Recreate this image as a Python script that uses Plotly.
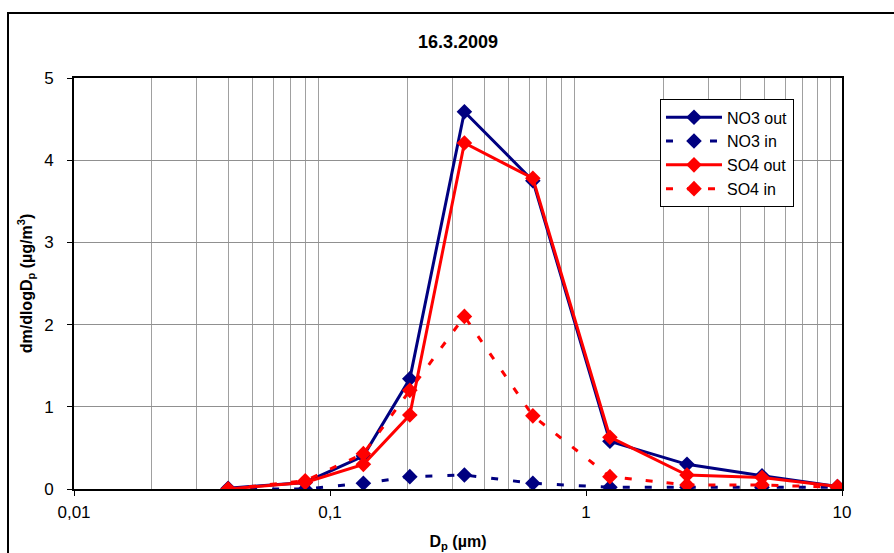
import plotly.graph_objects as go

# Impactor stage mid-point diameters (µm)
diameters = [0.04, 0.08, 0.135, 0.205, 0.335, 0.62, 1.24, 2.48, 4.87, 9.6]

# Mass size distributions dm/dlogDp (µg/m3)
no3_out = [0.01, 0.08, 0.40, 1.34, 4.59, 3.75, 0.58, 0.30, 0.16, 0.03]
no3_in = [0.00, 0.00, 0.07, 0.15, 0.17, 0.07, 0.02, 0.02, 0.02, 0.02]
so4_out = [0.00, 0.08, 0.30, 0.90, 4.21, 3.78, 0.63, 0.17, 0.14, 0.03]
so4_in = [0.00, 0.10, 0.43, 1.20, 2.10, 0.89, 0.15, 0.05, 0.05, 0.02]

x_tick_vals = [0.01, 0.1, 1, 10]
x_tick_text = ["0,01", "0,1", "1", "10"]
y_tick_vals = [0, 1, 2, 3, 4, 5]

NAVY = "#000080"
RED = "#FF0000"
FONT = "Arial, Liberation Sans, sans-serif"

minor_vals = [m * d for d in (0.01, 0.1, 1) for m in range(2, 10)]

fig = go.Figure()


def add_series(y, name, color, dash):
    fig.add_trace(go.Scatter(
        x=diameters, y=y, name=name, mode="lines+markers",
        line=dict(color=color, width=3, dash=dash),
        marker=dict(symbol="diamond", size=12, color=color),
    ))


add_series(no3_out, "NO3 out", NAVY, "solid")
add_series(no3_in, "NO3 in", NAVY, "7px,15px")
add_series(so4_out, "SO4 out", RED, "solid")
add_series(so4_in, "SO4 in", RED, "7px,14px")

fig.update_layout(
    width=894, height=553,
    margin=dict(l=74, r=52, t=78, b=64),
    paper_bgcolor="white", plot_bgcolor="white",
    font=dict(family=FONT, size=17, color="black"),
    title=dict(text="<b>16.3.2009</b>", x=0.5, xref="paper", xanchor="center",
               y=1 - 42 / 553, yanchor="middle", font=dict(size=18)),
    showlegend=True,
    legend=dict(x=0.763, y=0.948, xanchor="left", yanchor="top",
                bgcolor="white", bordercolor="black", borderwidth=1,
                font=dict(size=16), tracegroupgap=0, itemwidth=56,
                entrywidth=138),
    xaxis=dict(
        type="log", range=[-2, 1], automargin=False,
        tickvals=x_tick_vals, ticktext=x_tick_text,
        ticks="outside", ticklen=5, tickcolor="black",
        ticklabelstandoff=2,
        showgrid=False, zeroline=False,
        showline=True, linecolor="black", linewidth=2, mirror=True,
        minor=dict(tickvals=minor_vals, showgrid=True, gridcolor="#a0a0a0",
                   gridwidth=1, ticks=""),
        title=dict(text="<b>D<sub>p</sub> (µm)</b>", font=dict(size=16), standoff=14),
    ),
    yaxis=dict(
        range=[0, 5], tickvals=y_tick_vals, automargin=False,
        ticks="outside", ticklen=5, tickcolor="black",
        ticklabelstandoff=10,
        showgrid=True, gridcolor="#909090", gridwidth=1, zeroline=False,
        showline=True, linecolor="black", linewidth=2, mirror=True,
        title=dict(text="<b>dm/dlogD<sub>p</sub> (µg/m<sup>3</sup>)</b>",
                   font=dict(size=16), standoff=8),
    ),
)

# Outer chart frame
fig.add_shape(type="rect", xref="paper", yref="paper",
              x0=-66 / 768, x1=1.2, y0=-0.4, y1=1 + 65 / 411,
              line=dict(color="black", width=2), layer="below")

fig.write_html("out.html")
